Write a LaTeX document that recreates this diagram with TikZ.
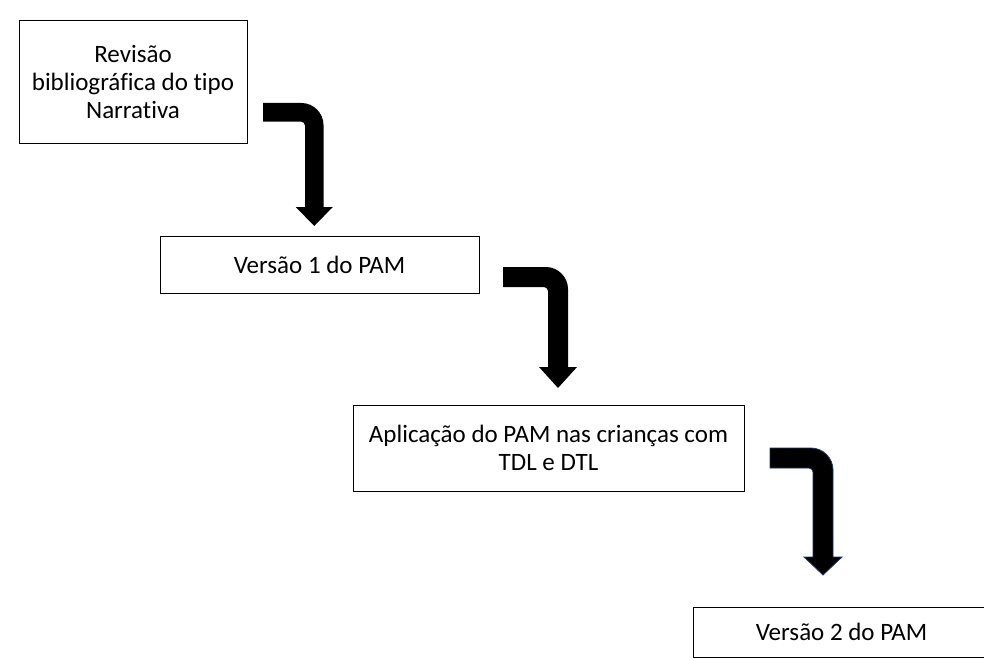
\documentclass[tikz,border=0pt]{standalone}
\usepackage{fontspec}
\setmainfont[RawFeature=-liga]{Carlito}
\usepackage{tikz}
\definecolor{arrowedge}{RGB}{31,56,100}
% block arrow bent down: [style]{bar x}{bar y}{shaft x}{width}{head y}{tip y}{head half width}
\newcommand{\bentarrow}[8][]{%
  \fill[#1] (#2,#3) -- (#4+#5-22,#3)
    .. controls (#4+#5-10,#3) and (#4+#5,#3+10) .. (#4+#5,#3+22)
    -- (#4+#5,#6) -- (#4+#5/2+#8,#6) -- (#4+#5/2,#7) -- (#4+#5/2-#8,#6)
    -- (#4,#6) -- (#4,#3+#5+4)
    .. controls (#4,#3+#5+2) and (#4-2,#3+#5) .. (#4-4,#3+#5)
    -- (#2,#3+#5) -- cycle;}
\tikzset{
  box/.style={draw, line width=1pt, inner sep=0pt, outer sep=0pt, align=center,
    font=\fontsize{25}{28}\selectfont},
}

\begin{document}
\begin{tikzpicture}[x=1pt, y=-1pt]
      \clip (0,0) rectangle (984,658);
      \fill[white] (0,0) rectangle (984,658);
      \node[box, minimum width=228, minimum height=122] (rev) at (133,82)
        {Revisão\\bibliográfica do tipo\\Narrativa};
      \node[box, minimum width=319, minimum height=57] (v1) at (319.5,264.5)
        {Versão 1 do PAM};
      \node[box, minimum width=391, minimum height=86] (apl) at (548.5,448)
        {Aplicação do PAM nas crianças com\\TDL e DTL};
      \node[box, minimum width=297, minimum height=50] (v2) at (841.5,632)
        {Versão 2 do PAM};
      \bentarrow[black]{263}{103}{305}{18.5}{207}{226}{18.5}
      \bentarrow[black]{503}{267}{548}{20}{367}{388}{19}
      \bentarrow[black, draw=arrowedge, line width=0.8pt]{770}{448}{813}{20}{557}{575}{19}
    \end{tikzpicture}
\end{document}
